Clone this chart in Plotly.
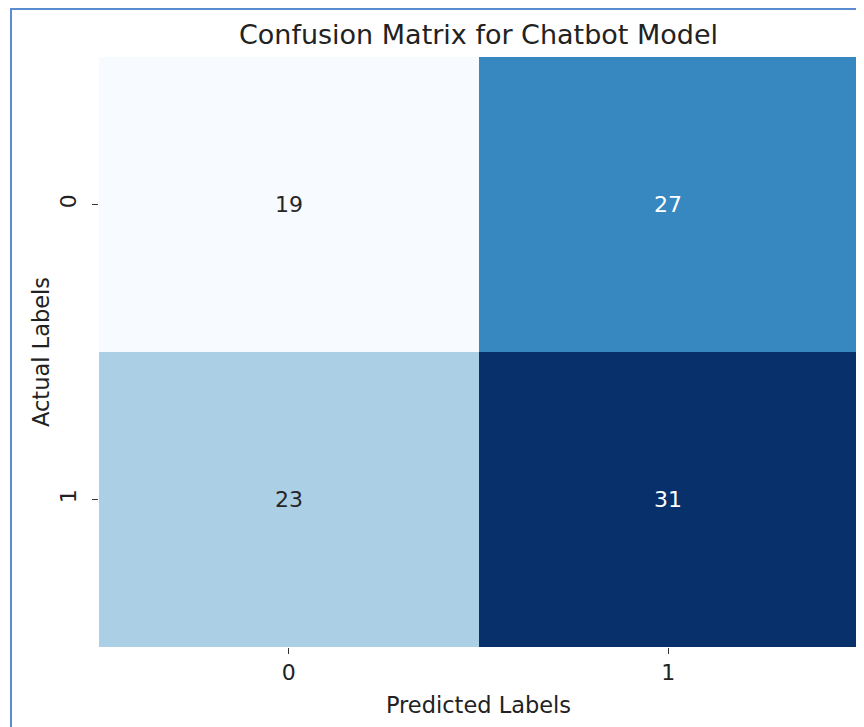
import plotly.graph_objects as go

# Data
predicted_labels = [0, 1]
actual_labels = [0, 1]
matrix = [[19, 27],
          [23, 31]]
tick_text = ["0", "1"]

blues = ['rgb(247,251,255)', 'rgb(222,235,247)', 'rgb(198,219,239)', 'rgb(158,202,225)',
         'rgb(107,174,214)', 'rgb(66,146,198)', 'rgb(33,113,181)', 'rgb(8,81,156)', 'rgb(8,48,107)']
cs = [[i / (len(blues) - 1), c] for i, c in enumerate(blues)]

zmin = min(min(r) for r in matrix)
zmax = max(max(r) for r in matrix)

FONT = "DejaVu Sans"
OFF = 8  # page body margin
W, H = 864 - OFF, 727 - OFF
# target plot area in screenshot px: x 99..858, y 57..647
L, R, T, B = 99 - OFF, W - (858 - OFF), 57 - OFF, H - (647 - OFF)
pw, ph = W - L - R, H - T - B

fig = go.Figure(go.Heatmap(
    z=matrix, x=predicted_labels, y=actual_labels,
    colorscale=cs, zmin=zmin, zmax=zmax, showscale=False, xgap=0, ygap=0,
    hoverinfo="skip",
))

annotations = []
for i, yl in enumerate(actual_labels):
    for j, xl in enumerate(predicted_labels):
        v = matrix[i][j]
        frac = (v - zmin) / (zmax - zmin)
        col = "#ffffff" if frac > 0.5 else "#262626"
        annotations.append(dict(x=xl, y=yl, xref="x", yref="y", text=str(v),
                                showarrow=False, font=dict(family=FONT, size=22, color=col)))


def px_x(p):
    return (p - OFF - L) / pw


def px_y(p):
    return (H - B - (p - OFF)) / ph


border = "#5b8bd0"
shapes = [
    dict(type="line", xref="paper", yref="paper", x0=px_x(10), x1=px_x(870), y0=px_y(9), y1=px_y(9),
         line=dict(color=border, width=2)),
    dict(type="line", xref="paper", yref="paper", x0=px_x(11), x1=px_x(11), y0=px_y(8), y1=px_y(740),
         line=dict(color=border, width=2)),
]

fig.update_layout(
    width=W, height=H,
    margin=dict(l=L, r=R, t=T, b=B),
    paper_bgcolor="white", plot_bgcolor="white",
    font=dict(family=FONT, color="#222222"),
    title=dict(text="Confusion Matrix for Chatbot Model", x=(L + pw / 2) / W, xanchor="center",
               y=1 - (35 - OFF) / H, yanchor="middle", xref="container", yref="container",
               font=dict(family=FONT, size=27, color="#222222")),
    annotations=annotations,
    shapes=shapes,
    xaxis=dict(tickvals=predicted_labels, ticktext=tick_text, ticks="outside", ticklen=6,
               tickcolor="#333333", tickwidth=1, showgrid=False, zeroline=False, showline=False,
               tickfont=dict(family=FONT, size=22, color="#222222"), ticklabelstandoff=0,
               title=dict(text="Predicted Labels", standoff=12,
                          font=dict(family=FONT, size=22.5, color="#222222")),
               range=[-0.5, 1.5]),
    yaxis=dict(tickvals=actual_labels, ticktext=tick_text, ticks="outside", ticklen=6,
               tickcolor="#333333", tickwidth=1, showgrid=False, zeroline=False, showline=False,
               tickangle=-90, tickfont=dict(family=FONT, size=22, color="#222222"),
               ticklabelstandoff=7,
               title=dict(text="Actual Labels", standoff=0,
                          font=dict(family=FONT, size=22.5, color="#222222")),
               range=[1.5, -0.5]),
)

fig.write_html("out.html")
